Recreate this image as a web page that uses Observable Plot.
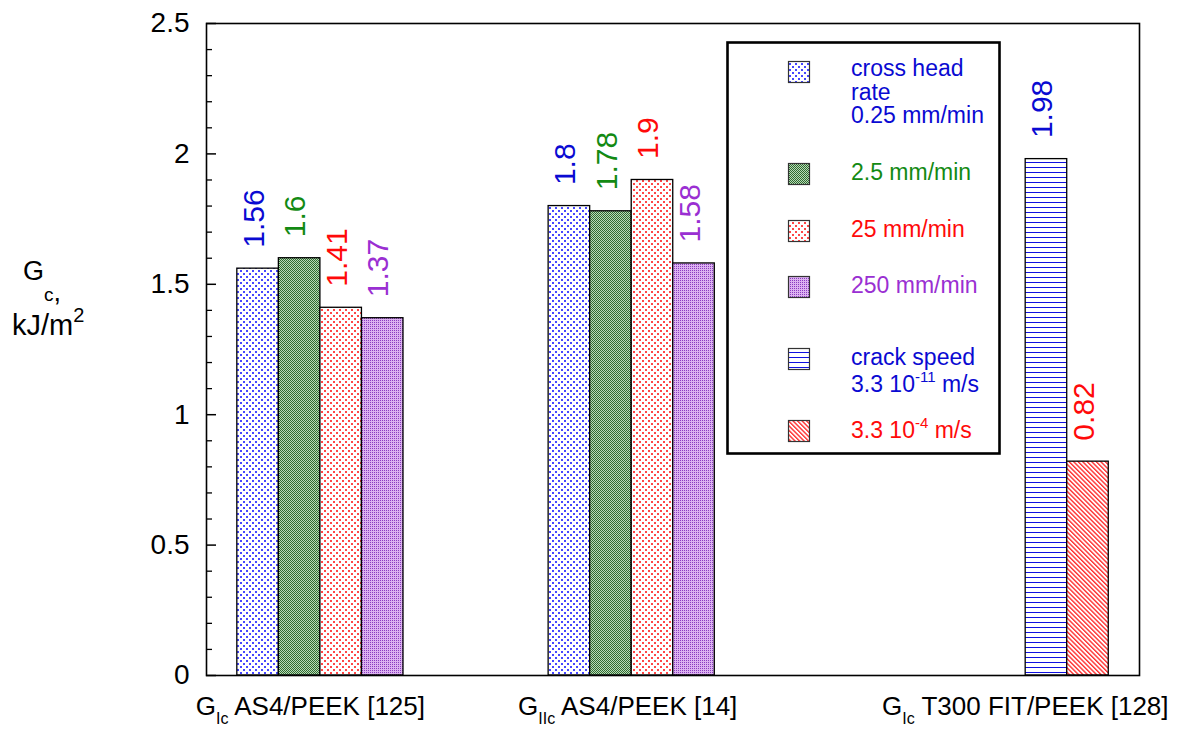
<!DOCTYPE html>
<html>
<head>
<meta charset="utf-8">
<script src="https://cdn.jsdelivr.net/npm/d3@7"></script>
<script src="https://cdn.jsdelivr.net/npm/@observablehq/plot@0.6"></script>
<style>
  html, body { margin: 0; padding: 0; background: #fff; }
  body { font-family: "Liberation Sans", Arial, Helvetica, sans-serif; }
  #chart { position: relative; width: 1182px; height: 729px; }
</style>
</head>
<body>
<svg width="0" height="0" style="position:absolute">
  <defs>
    <pattern id="p0" width="6" height="6" patternUnits="userSpaceOnUse">
      <rect width="6" height="6" fill="#fff"/>
      <rect x="0" y="0" width="2" height="2" fill="#4646ff"/>
      <rect x="3" y="3" width="2" height="2" fill="#4646ff"/>
    </pattern>
    <pattern id="p1" width="2" height="2" patternUnits="userSpaceOnUse">
      <rect width="2" height="2" fill="#b8dab8"/>
      <rect x="0" y="0" width="1" height="1" fill="#2f6a2f"/>
      <rect x="1" y="1" width="1" height="1" fill="#2f6a2f"/>
    </pattern>
    <pattern id="p2" width="6" height="6" patternUnits="userSpaceOnUse">
      <rect width="6" height="6" fill="#fff"/>
      <rect x="0" y="0" width="2" height="2" fill="#ff4646"/>
      <rect x="3" y="3" width="2" height="2" fill="#ff4646"/>
    </pattern>
    <pattern id="p3" width="2" height="2" patternUnits="userSpaceOnUse">
      <rect width="2" height="2" fill="#dcb2f0"/>
      <rect x="0" y="0" width="1" height="1" fill="#8a3cc0"/>
    </pattern>
    <pattern id="p4" width="5" height="5" patternUnits="userSpaceOnUse">
      <rect width="5" height="5" fill="#fff"/>
      <rect x="0" y="2" width="5" height="1" fill="#1010e0"/>
    </pattern>
    <pattern id="p5" width="3.2" height="3.2" patternUnits="userSpaceOnUse" patternTransform="rotate(-45)">
      <rect width="3.2" height="3.2" fill="#fff"/>
      <rect x="0" y="0" width="1.4" height="3.2" fill="#ff3030"/>
    </pattern>
  </defs>
</svg>
<div id="chart"></div>
<script>
// ---------- data ----------
const groupLabels = ["G|Ic| AS4/PEEK [125]", "G|IIc| AS4/PEEK [14]", "G|Ic| T300 FIT/PEEK [128]"];
const rateSeries = ["0.25 mm/min", "2.5 mm/min", "25 mm/min", "250 mm/min"];
const speedSeries = ["3.3 10^-11 m/s", "3.3 10^-4 m/s"];
const gIcAS4Values = [1.56, 1.6, 1.41, 1.37];
const gIIcAS4Values = [1.8, 1.78, 1.9, 1.58];
const gIcT300Values = [1.98, 0.82];
const yTicks = [0, 0.5, 1, 1.5, 2, 2.5];
const legendLines = [
  ["cross head", "rate", "0.25 mm/min"],
  ["2.5 mm/min"],
  ["25 mm/min"],
  ["250 mm/min"],
  ["crack speed", "3.3 10^-11 m/s"],
  ["3.3 10^-4 m/s"]
];

// ---------- layout / style (not data) ----------
const textColors = ["#0a0ad2", "#138a13", "#ff0a0a", "#9a2fd2", "#0a0ad2", "#ff0a0a"];
const groupStart = [0.742, 8.236, 19.72];     // in bar-width units
const labelCenter = [2.5, 10.14, 19.71];
const xMax = 22.46;
const pxPerUnit = 932 / xMax;

const rows = [];
[gIcAS4Values, gIIcAS4Values].forEach((vals, g) => {
  vals.forEach((v, i) => rows.push({group: g, series: i, value: v, x1: groupStart[g] + i, x2: groupStart[g] + i + 1}));
});
gIcT300Values.forEach((v, i) => rows.push({group: 2, series: 4 + i, value: v, x1: groupStart[2] + i, x2: groupStart[2] + i + 1}));

const majorTicks = yTicks;
const minorTicks = d3.range(0, 26).map(i => i / 10).filter(v => Math.abs(v * 2 - Math.round(v * 2)) > 1e-9);

const plot = Plot.plot({
  width: 1182,
  height: 729,
  marginLeft: 206,
  marginRight: 43,
  marginTop: 23,
  marginBottom: 54,
  x: {domain: [0, xMax], axis: null},
  y: {domain: [0, 2.5], ticks: yTicks, tickSize: 0, tickPadding: 17, tickFormat: d => String(d), label: null},
  color: {type: "identity"},
  style: {fontFamily: '"Liberation Sans", Arial, Helvetica, sans-serif', fontSize: "28px", color: "#000", background: "#fff", overflow: "visible"},
  marks: [
    Plot.rectY(rows, {x1: "x1", x2: "x2", y: "value", fill: d => `url(#p${d.series})`, stroke: "#000", strokeWidth: 1.3}),
    Plot.ruleY(majorTicks, {y: d => d, x1: 0, x2: 10 / pxPerUnit, stroke: "#000", strokeWidth: 1.5}),
    Plot.ruleY(minorTicks, {y: d => d, x1: 0, x2: 6 / pxPerUnit, stroke: "#000", strokeWidth: 1.3}),
    Plot.text(rows, {x: d => (d.x1 + d.x2) / 2, y: "value", text: d => String(d.value), rotate: -90, textAnchor: "start", fill: d => textColors[d.series], fontSize: 30, dy: -21, dx: -4}),
    Plot.text(groupLabels, {x: (d, i) => labelCenter[i], y: () => 0, text: d => d, dy: 31, fontSize: 26, textAnchor: "middle", fill: "#000"}),
    Plot.frame({stroke: "#000", strokeWidth: 1.6})
  ]
});

document.getElementById("chart").appendChild(plot);
const svg = d3.select(plot);

// subscripts in category labels
svg.selectAll("text").each(function () {
  const t = this.textContent;
  if (!t.includes("|")) return;
  const [a, b, c] = t.split("|");
  const s = d3.select(this);
  s.text(null);
  s.append("tspan").text(a);
  s.append("tspan").attr("font-size", "16px").attr("dy", "9").text(b);
  s.append("tspan").attr("dy", "-9").text(c);
});

function addRich(sel, str, supSize) {
  const m = str.match(/^(.*?)\^(\S+)(.*)$/);
  if (!m) { sel.append("tspan").text(str); return; }
  sel.append("tspan").text(m[1]);
  sel.append("tspan").attr("font-size", supSize).attr("dy", "-10").text(m[2]);
  sel.append("tspan").attr("dy", "10").text(m[3]);
}

// y-axis title
const yt = svg.append("g").attr("fill", "#000").attr("text-anchor", "start");
const g1 = yt.append("text").attr("x", 23).attr("y", 280).attr("font-size", "27px");
g1.append("tspan").text("G");
g1.append("tspan").attr("font-size", "19px").attr("dy", "21").text("c");
g1.append("tspan").text(",");
const g2 = yt.append("text").attr("x", 12).attr("y", 335).attr("font-size", "29px");
g2.append("tspan").text("kJ/m");
g2.append("tspan").attr("font-size", "20px").attr("dy", "-13").text("2");

// legend box
const lg = svg.append("g").attr("text-anchor", "start");
lg.append("rect").attr("x", 727.5).attr("y", 42.5).attr("width", 272).attr("height", 411)
  .attr("fill", "#fff").attr("stroke", "#000").attr("stroke-width", 2.6);
const swatchTop = [61, 163, 220, 276, 348, 420];
const lineBase = [[76, 100, 123], [180], [237], [293], [365, 392], [438]];
legendLines.forEach((lines, i) => {
  lg.append("rect").attr("x", 788.5).attr("y", swatchTop[i] + 0.5).attr("width", 21).attr("height", 21)
    .attr("fill", `url(#p${i})`).attr("stroke", "#333").attr("stroke-width", 1.2);
  lines.forEach((ln, j) => {
    const t = lg.append("text").attr("x", 851).attr("y", lineBase[i][j]).attr("font-size", "23px").attr("fill", textColors[i]);
    addRich(t, ln, "15px");
  });
});
</script>
</body>
</html>
